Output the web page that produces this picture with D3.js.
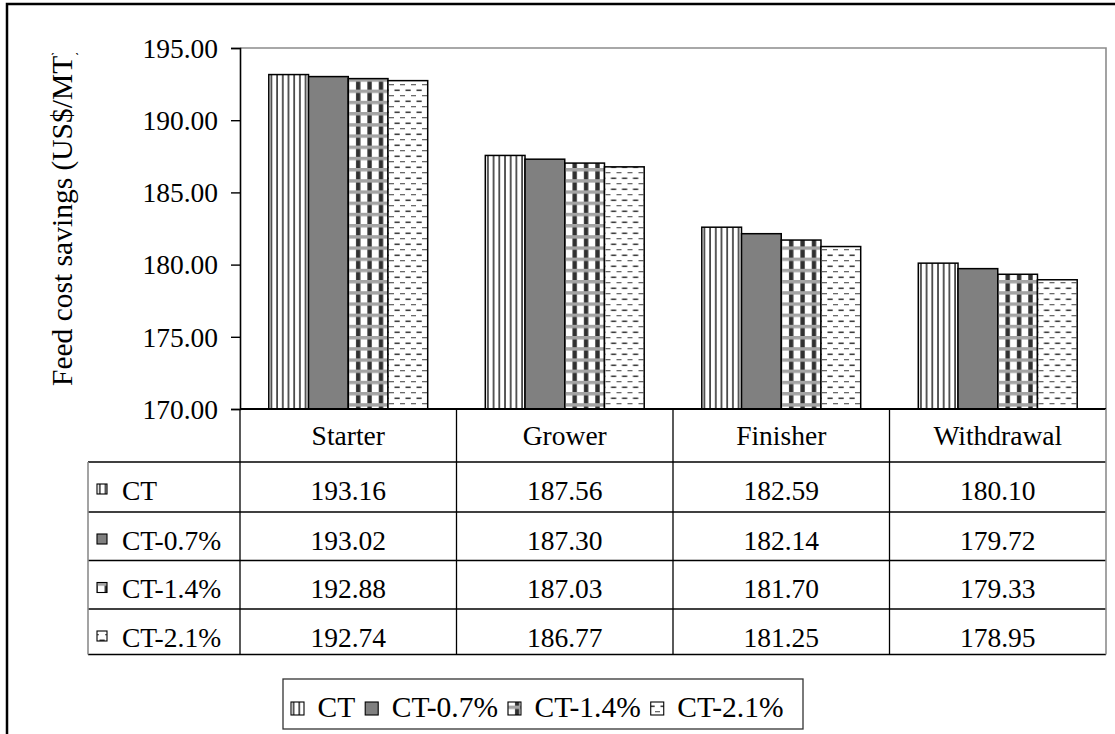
<!DOCTYPE html>
<html>
<head>
<meta charset="utf-8">
<script src="https://cdn.jsdelivr.net/npm/d3@7/dist/d3.min.js"></script>
<style>
  html, body { margin: 0; padding: 0; background: #fff; }
  svg { display: block; }
</style>
</head>
<body>
<svg id="chart" width="1115" height="734"></svg>
<script>
// ---- data ----
const categories = ["Starter", "Grower", "Finisher", "Withdrawal"];
const seriesNames = ["CT", "CT-0.7%", "CT-1.4%", "CT-2.1%"];
const ctValues   = [193.16, 187.56, 182.59, 180.10];
const ct07Values = [193.02, 187.30, 182.14, 179.72];
const ct14Values = [192.88, 187.03, 181.70, 179.33];
const ct21Values = [192.74, 186.77, 181.25, 178.95];
const yTicks = [170, 175, 180, 185, 190, 195];
const yTitle = "Feed cost savings (US$/MT)";

const seriesValues = [ctValues, ct07Values, ct14Values, ct21Values];
const fills = ["url(#pCT)", "#808080", "url(#pCT14)", "url(#pCT21)"];

const FONT = "'Liberation Serif', Tinos, 'Times New Roman', Times, 'DejaVu Serif', serif";

// ---- layout ----
const svg = d3.select("#chart").attr("font-family", FONT);
const plot = { left: 240, right: 1106, top: 48, bottom: 409 };
const tableLeft = 88;
const rowLines = [409, 462, 512, 560.5, 609, 654.5];
const fontSize = 27.5;
const legendFont = 29.5;

// ---- patterns ----
const defs = svg.append("defs");
const p1 = defs.append("pattern").attr("id", "pCT").attr("patternUnits", "userSpaceOnUse")
  .attr("width", 5.7).attr("height", 6);
p1.append("rect").attr("width", 5.7).attr("height", 6).attr("fill", "#fff");
p1.append("rect").attr("x", 2.1).attr("width", 1.6).attr("height", 6).attr("fill", "#333");

const p2 = defs.append("pattern").attr("id", "pCT14").attr("patternUnits", "userSpaceOnUse")
  .attr("width", 11.4).attr("height", 11.2);
p2.append("rect").attr("width", 11.4).attr("height", 11.2).attr("fill", "#fff");
p2.append("rect").attr("x", 2).attr("width", 4.4).attr("height", 11.2).attr("fill", "#303030");
p2.append("rect").attr("y", 0).attr("width", 11.4).attr("height", 3.4).attr("fill", "#a4a4a4");

const p3 = defs.append("pattern").attr("id", "pCT21").attr("patternUnits", "userSpaceOnUse")
  .attr("width", 11).attr("height", 11);
p3.append("rect").attr("width", 11).attr("height", 11).attr("fill", "#fff");
p3.append("rect").attr("x", 0.5).attr("y", 1.5).attr("width", 5.2).attr("height", 1.6).attr("fill", "#404040");
p3.append("rect").attr("x", 6).attr("y", 7).attr("width", 5.2).attr("height", 1.3).attr("fill", "#6a6a6a");

defs.append("clipPath").attr("id", "titleClip")
  .append("rect").attr("x", 0).attr("y", 53).attr("width", 120).attr("height", 400);

// ---- outer frame ----
svg.append("rect").attr("x", 7).attr("y", 4).attr("width", 1140).attr("height", 760)
  .attr("fill", "none").attr("stroke", "#000").attr("stroke-width", 2.5);

// ---- scales ----
const y = d3.scaleLinear().domain([170, 195]).range([plot.bottom, plot.top]);
const x0 = d3.scaleBand().domain(categories).range([plot.left, plot.right]).padding(0);
const gapRatio = 1.45;
const bw = x0.bandwidth();
const barW = bw / (seriesNames.length + gapRatio);
const x1 = d3.scaleBand().domain(seriesNames)
  .range([barW * gapRatio / 2, bw - barW * gapRatio / 2]).padding(0);

// plot area border (gray top & right)
svg.append("path")
  .attr("d", `M${plot.left},${plot.top}H${plot.right}V${plot.bottom}`)
  .attr("fill", "none").attr("stroke", "#8c8c8c").attr("stroke-width", 1.6);

// ---- bars ----
const groups = svg.append("g").selectAll("g").data(categories).join("g")
  .attr("transform", d => `translate(${x0(d)},0)`);
groups.selectAll("rect")
  .data((c, ci) => seriesNames.map((s, si) => ({ s, si, v: seriesValues[si][ci] })))
  .join("rect")
  .attr("x", d => x1(d.s))
  .attr("y", d => y(d.v))
  .attr("width", x1.bandwidth())
  .attr("height", d => y(170) - y(d.v))
  .attr("fill", d => fills[d.si])
  .attr("stroke", "#000").attr("stroke-width", 1.5);

// ---- y axis ----
const yAxis = d3.axisLeft(y).tickValues(yTicks).tickFormat(d3.format(".2f"))
  .tickSize(9).tickPadding(13);
const ga = svg.append("g").attr("transform", `translate(${plot.left},0)`).call(yAxis)
  .attr("font-family", FONT).attr("font-size", fontSize);
ga.select(".domain").attr("stroke", "#000").attr("stroke-width", 1.6);
ga.selectAll(".tick line").attr("stroke", "#000").attr("stroke-width", 1.4);
ga.selectAll(".tick text").attr("font-size", fontSize)
  .attr("font-family", FONT).attr("fill", "#000")
  .attr("dy", "0.34em");

// y title (clipped at the top like the original)
svg.append("g").attr("clip-path", "url(#titleClip)")
  .append("text")
  .attr("transform", "translate(72,386) rotate(-90)")
  .attr("text-anchor", "start")
  .attr("font-family", FONT)
  .attr("font-size", 29.5)
  .attr("fill", "#000")
  .text(yTitle);

// ---- data table ----
const tg = svg.append("g").attr("font-family", FONT);
tg.append("line").attr("x1", plot.left).attr("x2", plot.right).attr("y1", 409).attr("y2", 409)
  .attr("stroke", "#000").attr("stroke-width", 1.8);
rowLines.slice(1).forEach(yy => {
  tg.append("line").attr("x1", tableLeft).attr("x2", plot.right).attr("y1", yy).attr("y2", yy)
    .attr("stroke", "#000").attr("stroke-width", 1.3);
});
const colEdges = categories.map(c => x0(c)).concat([plot.right]);
colEdges.forEach((xx, i) => {
  const last = i === colEdges.length - 1;
  tg.append("line").attr("x1", xx).attr("x2", xx)
    .attr("y1", 409).attr("y2", rowLines[rowLines.length - 1])
    .attr("stroke", last ? "#8c8c8c" : "#000")
    .attr("stroke-width", last ? 1.6 : 1.3);
});
tg.append("line").attr("x1", tableLeft).attr("x2", tableLeft)
  .attr("y1", rowLines[1]).attr("y2", rowLines[rowLines.length - 1])
  .attr("stroke", "#8c8c8c").attr("stroke-width", 1.6);

categories.forEach(c => {
  tg.append("text").attr("x", x0(c) + bw / 2).attr("y", 445)
    .attr("text-anchor", "middle").attr("font-size", fontSize).attr("fill", "#000").text(c);
});
seriesNames.forEach((s, si) => {
  const top = rowLines[si + 1];
  const base = top + 37.5;
  tg.append("rect").attr("x", 97).attr("y", base - 15.5).attr("width", 10).attr("height", 10)
    .attr("fill", fills[si]).attr("stroke", "#000").attr("stroke-width", 1.1);
  tg.append("text").attr("x", 122).attr("y", base).attr("font-size", fontSize)
    .attr("fill", "#000").text(s);
  categories.forEach((c, ci) => {
    tg.append("text").attr("x", x0(c) + bw / 2).attr("y", base)
      .attr("text-anchor", "middle").attr("font-size", fontSize).attr("fill", "#000")
      .text(seriesValues[si][ci].toFixed(2));
  });
});

// ---- legend ----
const lg = svg.append("g").attr("font-family", FONT);
lg.append("rect").attr("x", 283).attr("y", 679).attr("width", 520).attr("height", 50)
  .attr("fill", "#fff").attr("stroke", "#333").attr("stroke-width", 1.3);
let lx = 291;
seriesNames.forEach((s, si) => {
  lg.append("rect").attr("x", lx).attr("y", 702).attr("width", 13).attr("height", 13)
    .attr("fill", fills[si]).attr("stroke", "#000").attr("stroke-width", 1.1);
  const t = lg.append("text").attr("x", lx + 26.5).attr("y", 716.5).attr("font-size", legendFont)
    .attr("fill", "#000").text(s);
  lx = lx + 26.5 + t.node().getComputedTextLength() + 10;
});
</script>
</body>
</html>
